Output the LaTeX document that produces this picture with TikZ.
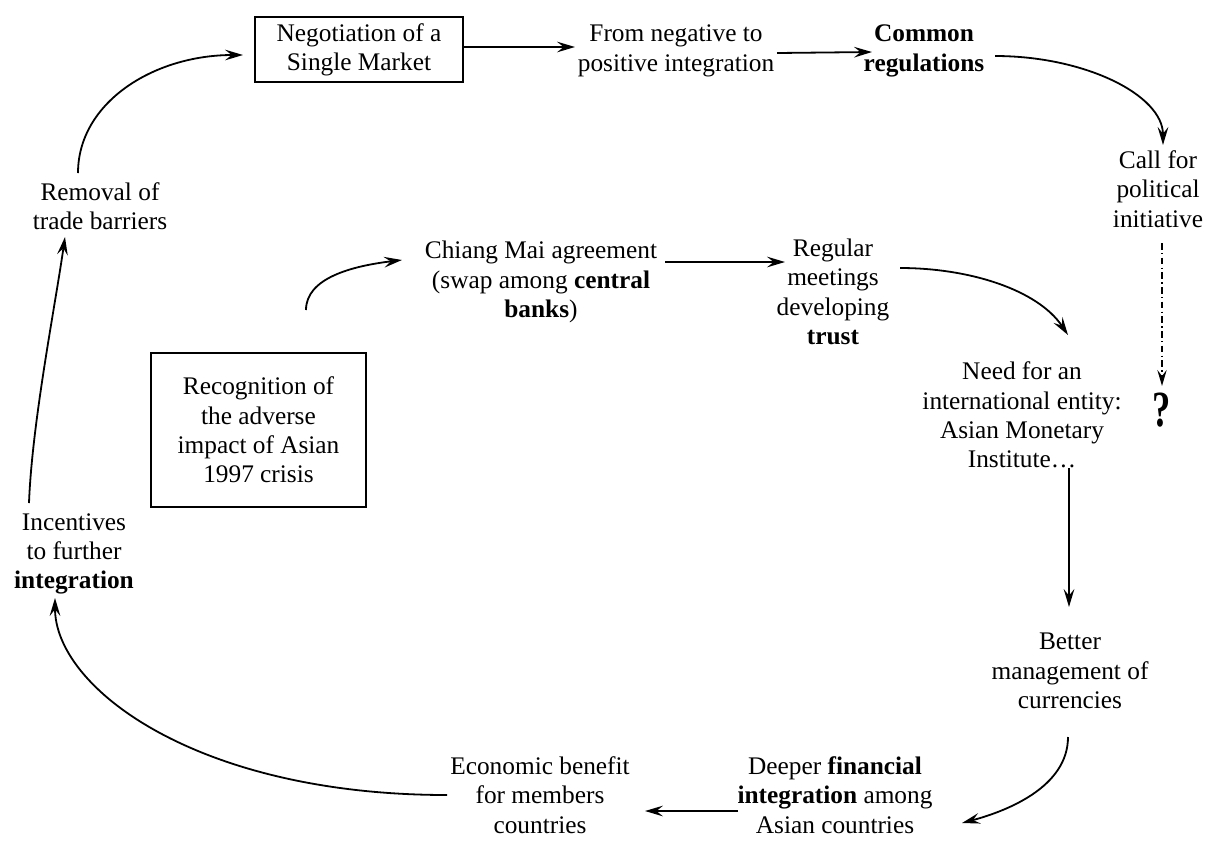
\documentclass[tikz,border=0pt]{standalone}
\usepackage{fontspec}
\setmainfont{Liberation Serif}
\usetikzlibrary{arrows.meta,calc}

\tikzset{
  txt/.style={align=center, inner sep=0pt, font=\fontsize{19}{22}\selectfont},
  boxed/.style={txt, draw, line width=2pt},
  arr/.style={line width=1.35pt, -{Stealth[length=13.5pt,width=8pt,inset=5pt]}},
  dashdot/.style={line width=1.3pt, dash pattern=on 5pt off 2.5pt on 1pt off 2.5pt,
    -{Stealth[length=12pt,width=7pt,inset=4.5pt]}}
}

\begin{document}
\begin{tikzpicture}[x=0.75pt,y=-0.75pt]
\useasboundingbox (0,0) rectangle (1207,840);

% upper loop: the single market route
\node[boxed, minimum width=156pt, minimum height=48.75pt] (neg) at (359,49.5)
  {Negotiation of a\\Single Market};
\node[txt] (fromneg) at (676,51) {From negative to\\positive integration};
\node[txt] (common) at (924,51) {\textbf{Common}\\\textbf{regulations}};
\node[txt] (call) at (1158,189) {Call for\\political\\initiative};
\node[txt] (q) at (1162,410) {\scalebox{0.72}[1]{\fontsize{38}{38}\selectfont\bfseries ?}};
\node[txt] (removal) at (100,206) {Removal of\\trade barriers};
\node[txt] (incent) at (74,554) {Incentives\\to further\\\textbf{integration}};

% inner route: the monetary cooperation
\node[boxed, minimum width=161.25pt, minimum height=115.5pt] (recog) at (258.5,430)
  {Recognition of\\the adverse\\impact of Asian\\1997 crisis};
\node[txt] (chiang) at (541,282) {Chiang Mai agreement\\(swap among \textbf{central}\\\textbf{banks})};
\node[txt] (regular) at (833,292) {Regular\\meetings\\developing\\\textbf{trust}};
\node[txt] (need) at (1022,415) {Need for an\\international entity:\\Asian Monetary\\Institute\ldots};
\node[txt] (better) at (1070,671) {Better\\management of\\currencies};
\node[txt] (deeper) at (835,795) {Deeper \textbf{financial}\\\textbf{integration} among\\Asian countries};
\node[txt] (econ) at (540,795) {Economic benefit\\for members\\countries};

% connectors
\draw[arr] ($(removal)+(-22,-33)$) .. controls +(0,-70) and +(-90,0) .. ($(neg)+(-116,5.5)$);
\draw[arr] ($(neg)+(104,-2.5)$) -- ($(fromneg)+(-101,-4)$);
\draw[arr] ($(fromneg)+(101,2)$) -- ($(common)+(-52,1)$);
\draw[arr] ($(common)+(71,5)$) .. controls +(90,0) and +(0,-50) .. ($(call)+(5,-44)$);
\draw[dashdot] ($(call)+(4,54)$) -- ($(q)+(0,-24)$);

\draw[arr] ($(recog)+(47.5,-120)$) .. controls +(0,-32) and +(-50,6) .. ($(chiang)+(-139,-22)$);
\draw[arr] ($(chiang)+(124,-20)$) -- ($(regular)+(-48,-30)$);
\draw[arr] ($(regular)+(67,-24)$) .. controls +(70,0) and +(-30,-45) .. ($(need)+(46,-80)$);
\draw[arr] ($(need)+(47,53)$) -- ($(better)+(-1,-64)$);
\draw[arr] ($(better)+(-2,66)$) .. controls +(0,50) and +(45,-12) .. ($(deeper)+(127,28)$);
\draw[arr] ($(deeper)+(-97,16)$) -- ($(econ)+(105,16)$);
\draw[arr] ($(econ)+(-93,0)$) .. controls +(-250,0) and +(0,90) .. ($(incent)+(-19,44)$);
\draw[arr] ($(incent)+(-45,-51)$) .. controls +(3,-80) and +(-10,70) .. ($(removal)+(-35,31)$);
\end{tikzpicture}
\end{document}
